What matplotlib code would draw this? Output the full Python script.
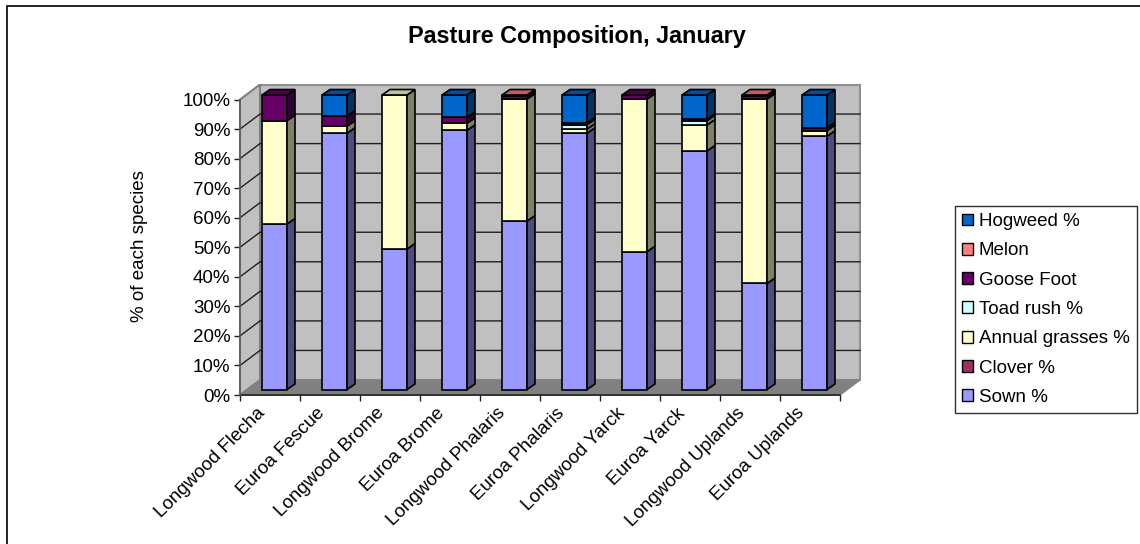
import numpy as np
import matplotlib.pyplot as plt
from matplotlib.patches import Polygon, Rectangle, Patch

plt.rcParams['font.family'] = ['Liberation Sans', 'DejaVu Sans']

# Data
sites = ["Longwood Flecha", "Euroa Fescue", "Longwood Brome", "Euroa Brome", "Longwood Phalaris",
	"Euroa Phalaris", "Longwood Yarck", "Euroa Yarck", "Longwood Uplands", "Euroa Uplands"]
species = ["Sown %", "Clover %", "Annual grasses %", "Toad rush %", "Goose Foot", "Melon", "Hogweed %"]
sown = [56.2, 87.0, 47.7, 88.0, 57.2, 87.0, 46.8, 81.0, 36.0, 86.0]
clover = [0, 0, 0, 0, 0, 0, 0, 0, 0, 0]
annual = [35.1, 2.4, 52.3, 2.4, 41.4, 1.4, 51.8, 8.8, 62.6, 1.9]
toad = [0, 0, 0, 0, 0, 1.5, 0, 1.5, 0, 0]
goose = [8.7, 3.5, 0, 2.0, 0.9, 0.6, 1.4, 0.4, 0.9, 1.0]
melon = [0, 0, 0, 0, 0.5, 0, 0, 0, 0.5, 0]
hogweed = [0, 7.1, 0, 7.6, 0, 9.5, 0, 8.3, 0, 11.1]
series = [sown, clover, annual, toad, goose, melon, hogweed]
colours = ["#9999FF", "#993366", "#FFFFCC", "#CCFFFF", "#660066", "#FF8080", "#0066CC"]
yticks = np.arange(0, 101, 10)

W, H = 1140, 544
fig = plt.figure(figsize=(W / 100, H / 100), dpi=100)
# Chart frame, runs off the right and bottom of the picture
fig.add_artist(Rectangle((7 / W, -0.01), 1.1, 1 - 6 / H + 0.01, fill=False, ec="black", lw=1.2,
	transform=fig.transFigure, clip_on=True))

# Front plane of the 3D box, in pixels
left, right, top, bottom = 240, 840, 99.5, 395
ax = fig.add_axes([left / W, 1 - bottom / H, (right - left) / W, (bottom - top) / H])
ax.set_xlim(0, 10)
ax.set_ylim(0, 100)
ax.patch.set_visible(False)
for s in ax.spines.values():
	s.set_visible(False)
px = 10 / (right - left)
py = 100 / (bottom - top)
depth_x, depth_y = 20 * px, 15 * py

# Walls
ax.add_patch(Rectangle((depth_x, depth_y), 10, 100, fc="#C0C0C0", ec="#909090", lw=1.5, zorder=1, clip_on=False))
ax.add_patch(Polygon([(0, 0), (depth_x, depth_y), (depth_x, 100 + depth_y), (0, 100)], fc="#C0C0C0", ec="#808080", lw=1.5, zorder=1, clip_on=False))
ax.add_patch(Polygon([(0, 0), (10, 0), (10 + depth_x, depth_y), (depth_x, depth_y)], fc="#808080", ec="#808080", lw=1, zorder=1, clip_on=False))
for y in yticks[1:-1]:
	ax.plot([0, depth_x, 10 + depth_x], [y, y + depth_y, y + depth_y], color="#202020", lw=1, zorder=2, clip_on=False)

# Bars
bar_w = 25 * px
off_x, off_y = 4.5, 5.5
side_x, side_y = 8 * px, 5.5 * py
scale = 294.5 / (bottom - top)
for i in range(len(sites)):
	x0 = i + 0.5 + off_x * px - bar_w / 2
	base = 0
	tops = []
	for vals, c in zip(series, colours):
		v = vals[i] * scale
		if v <= 0:
			continue
		y0 = base + off_y * py
		rgb = np.array(plt.matplotlib.colors.to_rgb(c))
		ax.add_patch(Rectangle((x0, y0), bar_w, v, fc=c, ec="black", lw=1.2, zorder=3 + 0.01 * i, clip_on=False))
		ax.add_patch(Polygon([(x0 + bar_w, y0), (x0 + bar_w + side_x, y0 + side_y), (x0 + bar_w + side_x, y0 + v + side_y), (x0 + bar_w, y0 + v)],
			fc=rgb * 0.5, ec="black", lw=1.2, zorder=3 + 0.01 * i, clip_on=False))
		base += v
		tops.append((y0 + v, rgb))
	yt, rgb = tops[-1]
	ax.add_patch(Polygon([(x0, yt), (x0 + bar_w, yt), (x0 + bar_w + side_x, yt + side_y), (x0 + side_x, yt + side_y)],
		fc=rgb * 0.75, ec="black", lw=1.2, zorder=3.5, clip_on=False))

# Axes
ax.set_yticks(yticks)
ax.set_yticklabels([f"{y}%" for y in yticks], fontsize=13.5)
ax.set_xticks(range(11))
ax.set_xticklabels([])
ax.tick_params(axis="both", length=4.5, width=1, color="#202020", pad=2.3)
for i, name in enumerate(sites):
	ax.annotate(name, xy=(i + 0.5, 0), xytext=(-10, -7), textcoords="offset points", rotation=45, ha="right", va="top",
		rotation_mode="anchor", fontsize=13.5, annotation_clip=False)
ax.plot([0, 10], [0, 0], color="#202020", lw=1.2, zorder=2.5, clip_on=False)
ax.plot([0, 0], [0, 100], color="#606060", lw=1.2, zorder=2.5, clip_on=False)

fig.text(140 / W, 1 - 246 / H, "% of each species", rotation=90, ha="center", va="center", fontsize=13.5)
fig.text(577 / W, 1 - 37 / H, "Pasture Composition, January", ha="center", va="center", fontsize=16.8, fontweight="bold")

# Legend
handles = [Patch(fc=c, ec="black", lw=1, label=s) for s, c in zip(species, colours)][::-1]
leg = fig.legend(handles=handles, loc="upper left", bbox_to_anchor=(955 / W, 1 - 206 / H), bbox_transform=fig.transFigure,
	fontsize=13.5, frameon=True, fancybox=False, edgecolor="#303030", framealpha=1, handlelength=0.6, handleheight=0.6,
	labelspacing=0.655, handletextpad=0.28, borderpad=0.38, borderaxespad=0)
leg.get_frame().set_linewidth(1)

plt.savefig("out.png", dpi=100)
